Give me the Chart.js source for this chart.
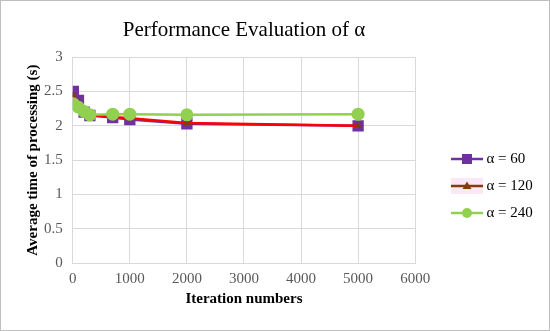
<!DOCTYPE html>
<html><head><meta charset="utf-8">
<script src="https://cdn.jsdelivr.net/npm/chart.js@4/dist/chart.umd.min.js"></script>
<style>
html,body{margin:0;padding:0;background:#fff;}
#wrap{position:absolute;left:0;top:0;width:548px;height:329px;border:1px solid #bfbfbf;}
canvas{display:block;}
</style></head><body>
<div id="wrap"><canvas id="c" width="548" height="329"></canvas></div>
<script>
const iterations = [10, 100, 200, 300, 700, 1000, 2000, 5000];
const alpha60  = [2.50, 2.37, 2.20, 2.15, 2.12, 2.09, 2.03, 2.00];
const alpha120 = [2.45, 2.33, 2.20, 2.16, 2.13, 2.11, 2.04, 2.00];
const alpha240 = [2.32, 2.27, 2.21, 2.16, 2.17, 2.17, 2.16, 2.17];
const seriesNames = ['α = 60', 'α = 120', 'α = 240'];
const xTicks = [0, 1000, 2000, 3000, 4000, 5000, 6000];
const yTicks = [0, 0.5, 1, 1.5, 2, 2.5, 3];

const SERIF = '"Liberation Serif", "Times New Roman", serif';

function legendIcon(color, markerColor, style, bg) {
  const cv = document.createElement('canvas');
  cv.width = 32; cv.height = 16;
  const g = cv.getContext('2d');
  if (bg) { g.fillStyle = bg; g.fillRect(0, 0, 32, 16); }
  g.strokeStyle = color; g.lineWidth = 2.5;
  g.beginPath(); g.moveTo(0, 8); g.lineTo(32, 8); g.stroke();
  g.fillStyle = markerColor;
  if (style === 'rect') { g.fillRect(11, 3, 10, 10); }
  else if (style === 'triangle') { g.beginPath(); g.moveTo(16, 3.5); g.lineTo(20.5, 11); g.lineTo(11.5, 11); g.closePath(); g.fill(); }
  else { g.beginPath(); g.arc(16, 8, 5, 0, Math.PI * 2); g.fill(); }
  return cv;
}
const icons = [
  legendIcon('#7030A0', '#7030A0', 'rect'),
  legendIcon('#843C0C', '#843C0C', 'triangle', '#fce8f5'),
  legendIcon('#92D050', '#92D050', 'circle')
];

const toXY = arr => arr.map((v, i) => ({x: iterations[i], y: v}));

const legendShift = {
  id: 'legendShift',
  afterLayout(chart) {
    const lg = chart.legend;
    if (!lg) return;
    const dx = 442 - lg.left;
    lg.left += dx; lg.right += dx;
    lg.top += 27; lg.bottom += 27;
  }
};

new Chart(document.getElementById('c'), {
  type: 'line',
  data: {
    datasets: [
      {label: seriesNames[0], data: toXY(alpha60), borderColor: '#7030A0', backgroundColor: '#7030A0',
       borderWidth: 2.5, pointStyle: 'rect', pointRadius: 8, pointBorderWidth: 0, order: 3},
      {label: seriesNames[1], data: toXY(alpha120), borderColor: '#FF0000', backgroundColor: '#843C0C',
       borderWidth: 2.5, pointStyle: 'triangle', pointRadius: 4, pointBorderWidth: 0, order: 2},
      {label: seriesNames[2], data: toXY(alpha240), borderColor: '#92D050', backgroundColor: '#92D050',
       borderWidth: 2.5, pointStyle: 'circle', pointRadius: 6.5, pointBorderWidth: 0, order: 1}
    ]
  },
  plugins: [legendShift],
  options: {
    responsive: false,
    animation: false,
    layout: {padding: {top: 6, left: 23, right: 34, bottom: 19}},
    plugins: {
      title: {display: true, text: 'Performance Evaluation of α', color: '#000',
        font: {family: SERIF, size: 21, weight: 'normal'}, padding: {top: 11, bottom: 14}, fullSize: false},
      legend: {position: 'right',
        labels: {usePointStyle: true, pointStyleWidth: 24, boxHeight: 14, color: '#000',
          font: {family: SERIF, size: 15}, padding: 12,
          generateLabels: chart => chart.data.datasets.map((d, i) => ({
            text: d.label, pointStyle: icons[i], datasetIndex: i, hidden: false,
            fontColor: '#000', lineWidth: 0, strokeStyle: 'transparent', fillStyle: 'transparent'
          }))
        }
      },
      tooltip: {enabled: false}
    },
    scales: {
      x: {type: 'linear', min: 0, max: 6000,
        afterBuildTicks: s => { s.ticks = xTicks.map(v => ({value: v})); },
        ticks: {color: '#595959', font: {family: SERIF, size: 15}, callback: v => String(v), padding: 7},
        grid: {color: '#d9d9d9', drawTicks: false},
        border: {color: '#d9d9d9'},
        title: {display: true, text: 'Iteration numbers', color: '#000',
          font: {family: SERIF, size: 15, weight: 'bold', lineHeight: 1}, padding: {top: -3, bottom: 4}}
      },
      y: {min: 0, max: 3,
        afterBuildTicks: s => { s.ticks = yTicks.map(v => ({value: v})); },
        ticks: {color: '#595959', font: {family: SERIF, size: 15}, callback: v => String(v), padding: 10},
        grid: {color: '#d9d9d9', drawTicks: false},
        border: {color: '#d9d9d9'},
        title: {display: true, text: 'Average time of processing (s)', color: '#000',
          font: {family: SERIF, size: 15, weight: 'bold'}, padding: {top: 0, bottom: -8}}
      }
    }
  }
});
</script>
</body></html>
